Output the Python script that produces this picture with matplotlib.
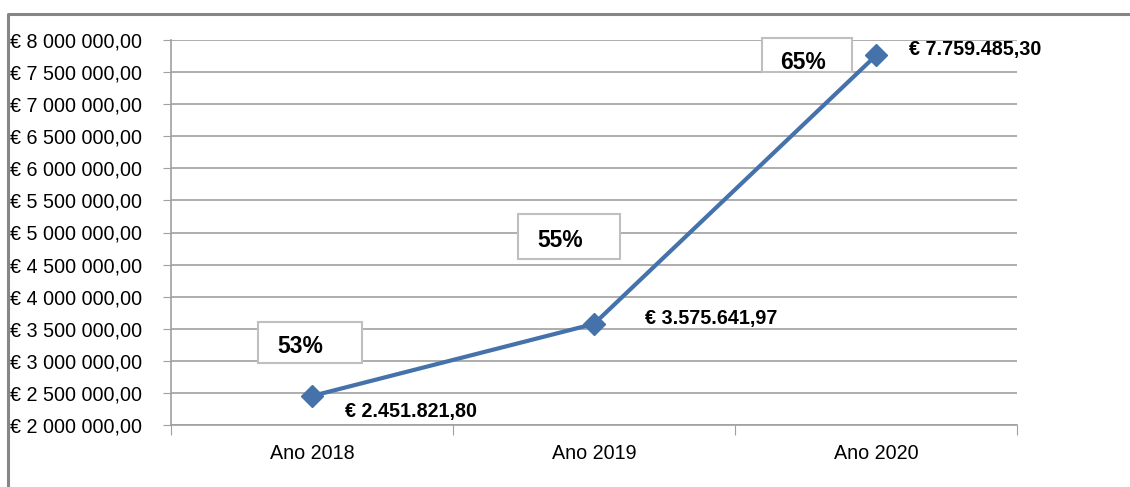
import matplotlib
matplotlib.use('Agg')
import matplotlib.pyplot as plt
from matplotlib.lines import Line2D
from matplotlib.patches import Rectangle

plt.rcParams['font.family'] = ['Liberation Sans', 'DejaVu Sans']

anos = ['Ano 2018', 'Ano 2019', 'Ano 2020']
valores = [2451821.80, 3575641.97, 7759485.30]
rotulos = ['€ 2.451.821,80', '€ 3.575.641,97', '€ 7.759.485,30']
percentagens = ['53%', '55%', '65%']
yticks = [2000000 + 500000 * i for i in range(13)]


def fmt_eur(v):
    s = '{:,.2f}'.format(v)
    s = s.replace(',', ' ').replace('.', ',')
    return '€ ' + s


cor = '#4572AA'
fig = plt.figure(figsize=(11.3, 4.87), dpi=100)
ax = fig.add_axes([171/1130, 62/487, 846/1130, 385/487])

x = [i + 0.5 for i in range(len(anos))]
ax.plot(x, valores, color=cor, lw=3, marker='D', ms=11, zorder=3, clip_on=False)

ax.set_xlim(0, 3)
ax.set_ylim(2000000, 8000000)
ax.set_yticks(yticks)
ax.set_yticklabels([fmt_eur(v) for v in yticks], ha='left', fontsize=14.2)
ax.tick_params(axis='y', length=6, color='#A0A0A0', pad=110, direction='out')
ax.set_xticks([0, 1, 2, 3])
ax.set_xticklabels([])
ax.set_xticks(x, minor=True)
ax.set_xticklabels(anos, minor=True, fontsize=14.2)
ax.tick_params(axis='x', which='major', length=7, color='#A0A0A0', direction='out')
ax.tick_params(axis='x', which='minor', length=0, pad=14)
ax.grid(axis='y', color='#A0A0A0', lw=1.2)
ax.set_axisbelow(True)
for s in ['top', 'right']:
    ax.spines[s].set_visible(False)
ax.spines['left'].set_color('#A0A0A0')
ax.spines['bottom'].set_color('#A0A0A0')
ax.spines['left'].set_linewidth(1.2)
ax.spines['bottom'].set_linewidth(1.2)

# rotulos dos valores
offsets = [(24, -11), (37, 4), (24, 4)]
for xi, v, r, off in zip(x, valores, rotulos, offsets):
    ax.annotate(r, (xi, v), xytext=off, textcoords='offset points',
                ha='left', va='center', fontsize=14.2, fontweight='bold')

# caixas de percentagem (posicao em unidades do eixo)
caixas = [(0.309, 2.966e6, 0.368, 0.639e6), (1.230, 4.587e6, 0.362, 0.701e6),
          (2.096, 7.501e6, 0.319, 0.530e6)]
pos_txt = [(0.457, 3.216e6), (1.379, 4.883e6), (2.241, 7.657e6)]
for (bx, by, bw, bh), (tx, ty), p in zip(caixas, pos_txt, percentagens):
    ax.add_patch(Rectangle((bx, by), bw, bh, facecolor='white', edgecolor='#BFBFBF',
                           lw=1.5, zorder=2, clip_on=False))
    ax.text(tx, ty, p, ha='center', va='center', fontsize=16.5, fontweight='bold', zorder=4)

# moldura
fig.add_artist(Line2D([8/1130, 8/1130, 1], [0, 1 - 14/487, 1 - 14/487],
                      color='#868686', lw=2.2))

fig.savefig('out.png', dpi=100)
